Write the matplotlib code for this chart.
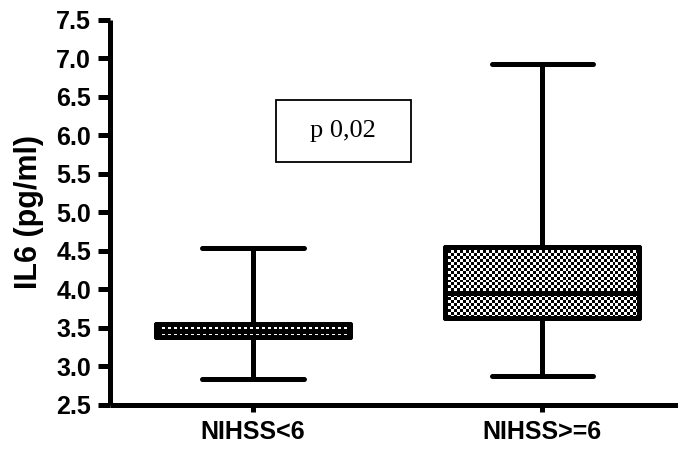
import numpy as np
import matplotlib
matplotlib.use("Agg")
import matplotlib.pyplot as plt
from matplotlib.patches import Rectangle

# valeurs
groupes = ["NIHSS<6", "NIHSS>=6"]
minimum = [2.84, 2.88]
q1 = [3.38, 3.63]
mediane = [3.46, 3.95]
q3 = [3.55, 4.55]
maximum = [4.54, 6.93]
y_ticks = [2.5, 3.0, 3.5, 4.0, 4.5, 5.0, 5.5, 6.0, 6.5, 7.0, 7.5]
texte_p = "p 0,02"

plt.rcParams["font.family"] = ["Liberation Sans", "DejaVu Sans"]
plt.rcParams["font.weight"] = "bold"

fig = plt.figure(figsize=(6.78, 4.5), dpi=100)
ax = fig.add_axes([0.1622, 0.1, 0.8378, 0.8556])

stats = []
for i, g in enumerate(groupes):
    stats.append({"label": g, "whislo": minimum[i], "q1": q1[i], "med": mediane[i],
                  "q3": q3[i], "whishi": maximum[i]})

lw = 3.6
res = ax.bxp(stats, positions=[1, 2], widths=0.67, capwidths=0.35, patch_artist=True,
             showfliers=False,
             boxprops=dict(facecolor="white", edgecolor="black", linewidth=lw, joinstyle="round"),
             whiskerprops=dict(color="black", linewidth=lw),
             capprops=dict(color="black", linewidth=lw, solid_capstyle="round"),
             medianprops=dict(color="black", linewidth=lw))

ax.set_xlim(0.505, 2.47)
ax.set_ylim(2.5, 7.5)

# motif en damier dans les boites
for i, box in enumerate(res["boxes"]):
    x0, x1 = i + 1 - 0.335, i + 1 + 0.335
    y0, y1 = q1[i], q3[i]
    nx = 66
    ny = max(2, int(round((y1 - y0) / 5.0 * 385 / 3)))
    damier = (np.indices((ny, nx)).sum(axis=0) % 2).astype(float)
    im = ax.imshow(damier, cmap="gray", extent=[x0, x1, y0, y1], aspect="auto",
                   interpolation="nearest")
    im.set_clip_path(box)
    box.set_zorder(2)
    im.set_zorder(2.1)
    edge = plt.Rectangle((x0, y0), x1 - x0, y1 - y0, fill=False, edgecolor="black",
                         linewidth=lw, joinstyle="round", zorder=2.2)
    ax.add_patch(edge)
for ln in res["medians"]:
    ln.set_zorder(2.3)

ax.set_xlim(0.505, 2.47)
ax.set_ylim(2.5, 7.5)
ax.set_yticks(y_ticks)
ax.set_yticklabels([f"{v:.1f}" for v in y_ticks])
ax.set_xticks([1, 2])
ax.set_xticklabels(groupes)

for s in ["top", "right"]:
    ax.spines[s].set_visible(False)
for s in ["left", "bottom"]:
    ax.spines[s].set_linewidth(lw)
    ax.spines[s].set_capstyle("butt")

ax.tick_params(axis="y", length=8.5, width=lw, labelsize=18, pad=5)
ax.tick_params(axis="x", length=5, width=lw, labelsize=18, pad=6)
for t in ax.get_xticklabels() + ax.get_yticklabels():
    t.set_fontweight("bold")

ax.set_ylabel("IL6 (pg/ml)", fontsize=22, fontweight="bold", labelpad=9)

ax.add_patch(Rectangle((0.292, 0.631), 0.238, 0.161, transform=ax.transAxes,
                       fill=False, edgecolor="black", linewidth=1.3, clip_on=False))
ax.text(0.411, 0.712, texte_p, transform=ax.transAxes, ha="center", va="center",
        fontsize=19, fontweight="normal", family=["Liberation Serif", "DejaVu Serif"])

fig.savefig("out.png", dpi=100)
